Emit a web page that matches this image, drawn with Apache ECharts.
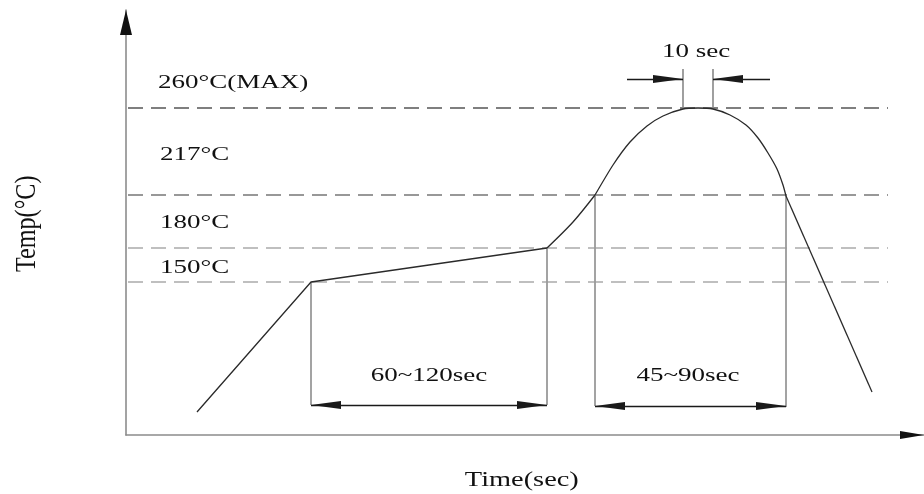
<!DOCTYPE html>
<html><head><meta charset="utf-8">
<script src="https://cdn.jsdelivr.net/npm/echarts@6/dist/echarts.min.js"></script>
<style>html,body{margin:0;padding:0;background:#fff}#c{width:924px;height:494px}</style>
</head><body><div id="c"></div>
<script>
// Schematic reflow profile. x = schematic time units, y = schematic temperature level.
const xRange = [0, 399];
const yRange = [0, 425];

// Temperature levels (dashed reference lines)
const levelLabels = ['260°C(MAX)', '217°C', '180°C', '150°C'];
const levelValues = [327, 240, 187, 153];
const levelSpan = [1, 381];

// Profile curve segments
const rampX = [35.5, 92.5, 210.5];
const rampY = [23, 153, 187];
const preheatX = [210.5, 223.5, 234.5];
const preheatY = [187, 213, 240];
const peakX = [234.5, 243.5, 252, 260.5, 268.5, 278.5, 286, 293.5, 302, 310, 316, 321, 325.5, 328.5, 330];
const peakY = [240, 270, 293, 309, 319, 326, 327, 326, 320, 310, 297, 282, 266, 250, 239];
const coolX = [330, 373];
const coolY = [239, 43];

// Vertical extension lines
const markerX = [92.5, 210.5, 234.5, 330];
const markerTop = [153, 187, 240, 239];
const markerBottom = [30, 30, 29, 28];
const peakMarkerX = [278.5, 293.5];
const peakMarkerTop = 366;
const peakMarkerBottom = 326;

// Dimension spans (outward arrows)
const spanLabels = ['60~120sec', '45~90sec'];
const spanFrom = [92.5, 234.5];
const spanTo = [210.5, 330];
const spanY = [30, 29];
// 10 sec (inward arrows)
const peakSpanLabel = '10 sec';
const peakArrowOuter = [250.5, 322];
const peakArrowY = 356;

const axisNames = ['Time(sec)', 'Temp(°C)'];

const chart = echarts.init(document.getElementById('c'), null, {renderer: 'canvas'});
const zip = (xs, ys) => xs.map((x, i) => [x, ys[i]]);

const arrowPath = 'path://M0,0L4,30L-4,30ZM0,-30';
const arrowSize = [8, 60];
const series = [];

const levelColors = ['#555', '#777', '#aaa', '#aaa'];
levelValues.forEach((v, i) => {
  series.push({
    type: 'line', silent: true, symbol: 'none', z: 1,
    data: [[levelSpan[0], v], [levelSpan[1], v]],
    lineStyle: {type: [15, 8], color: levelColors[i], width: 1.3}
  });
});

markerX.forEach((x, i) => {
  series.push({
    type: 'line', silent: true, symbol: 'none', z: 2,
    data: [[x, markerTop[i]], [x, markerBottom[i]]],
    lineStyle: {color: '#999', width: 1.8}
  });
});
peakMarkerX.forEach(x => {
  series.push({
    type: 'line', silent: true, symbol: 'none', z: 2,
    data: [[x, peakMarkerTop], [x, peakMarkerBottom]],
    lineStyle: {color: '#888', width: 1.6}
  });
});

const curveStyle = {color: '#2a2a2a', width: 1.3};
series.push({type: 'line', silent: true, symbol: 'none', z: 3, data: zip(rampX, rampY), lineStyle: curveStyle});
series.push({type: 'line', silent: true, symbol: 'none', z: 3, smooth: 0.3, data: zip(preheatX, preheatY), lineStyle: curveStyle});
series.push({type: 'line', silent: true, symbol: 'none', z: 3, smooth: 0.2, data: zip(peakX, peakY), lineStyle: curveStyle});
series.push({type: 'line', silent: true, symbol: 'none', z: 3, data: zip(coolX, coolY), lineStyle: curveStyle});

// dimension lines
const dimData = [];
spanFrom.forEach((f, i) => {
  dimData.push([
    {coord: [f, spanY[i]], symbol: arrowPath, symbolSize: arrowSize},
    {coord: [spanTo[i], spanY[i]], symbol: arrowPath, symbolSize: arrowSize}
  ]);
});
dimData.push([
  {coord: [peakArrowOuter[0], peakArrowY], symbol: 'none'},
  {coord: [peakMarkerX[0], peakArrowY], symbol: arrowPath, symbolSize: arrowSize}
]);
dimData.push([
  {coord: [peakArrowOuter[1], peakArrowY], symbol: 'none'},
  {coord: [peakMarkerX[1], peakArrowY], symbol: arrowPath, symbolSize: arrowSize}
]);
series.push({
  type: 'line', silent: true, symbol: 'none', data: [], z: 4,
  markLine: {
    silent: true, animation: false,
    label: {show: false},
    lineStyle: {color: '#1a1a1a', width: 1.3, type: 'solid'},
    emphasis: {disabled: true},
    data: dimData
  }
});

chart.setOption({
  animation: false,
  backgroundColor: '#fff',
  grid: {left: 126, right: 0, top: 10, bottom: 59},
  xAxis: {
    type: 'value', min: xRange[0], max: xRange[1],
    axisLine: {show: true, lineStyle: {color: '#8c8c8c', width: 1.6}},
    axisTick: {show: false}, axisLabel: {show: false}, splitLine: {show: false}
  },
  yAxis: {
    type: 'value', min: yRange[0], max: yRange[1],
    axisLine: {show: true, lineStyle: {color: '#8c8c8c', width: 1.6}},
    axisTick: {show: false}, axisLabel: {show: false}, splitLine: {show: false}
  },
  series: series
});

// Annotation text, anchored in data coordinates
const px = (x, y) => chart.convertToPixel({gridIndex: 0}, [x, y]);
const serif = '"Liberation Serif", "Times New Roman", serif';
const textEl = (str, pos, align, size, sx, sy, rot) => ({
  type: 'text', silent: true, z: 10,
  x: pos[0], y: pos[1], scaleX: sx, scaleY: sy || 1, rotation: rot || 0,
  style: {
    text: str, x: 0, y: 0, fill: '#111',
    fontSize: size, fontFamily: serif,
    align: align, textAlign: align,
    verticalAlign: 'middle', textVerticalAlign: 'middle'
  }
});

const levelLabelPos = [[16, 352], [17, 280], [17, 212], [17, 167]];
const spanLabelPos = [[151.5, 59], [281, 59]];
const peakLabelPos = [285, 383];

const graphics = [];
levelLabels.forEach((t, i) => graphics.push(textEl(t, px(levelLabelPos[i][0], levelLabelPos[i][1]), 'left', 18, 1.5)));
spanLabels.forEach((t, i) => graphics.push(textEl(t, px(spanLabelPos[i][0], spanLabelPos[i][1]), 'center', 18, 1.5)));
graphics.push(textEl(peakSpanLabel, px(peakLabelPos[0], peakLabelPos[1]), 'center', 18, 1.5));

// axis titles
const origin = px(xRange[0], yRange[0]);
const xEnd = px(xRange[1], yRange[0]);
const yEnd = px(xRange[0], yRange[1]);
graphics.push(textEl(axisNames[0], [origin[0] + (xEnd[0] - origin[0]) * 0.496, origin[1] + 45], 'center', 21, 1.35));
graphics.push(textEl(axisNames[1], [origin[0] - 99, yEnd[1] + (origin[1] - yEnd[1]) * 0.503], 'center', 21, 1.15, 1.45, Math.PI / 2));

// axis arrowheads
graphics.push({type: 'polygon', silent: true, z: 9,
  shape: {points: [[yEnd[0], yEnd[1]], [yEnd[0] - 6, yEnd[1] + 25], [yEnd[0] + 6, yEnd[1] + 25]]},
  style: {fill: '#111'}});
graphics.push({type: 'polygon', silent: true, z: 9,
  shape: {points: [[xEnd[0], xEnd[1]], [xEnd[0] - 24, xEnd[1] - 4], [xEnd[0] - 24, xEnd[1] + 4]]},
  style: {fill: '#111'}});

chart.setOption({graphic: graphics});
</script>
</body></html>
